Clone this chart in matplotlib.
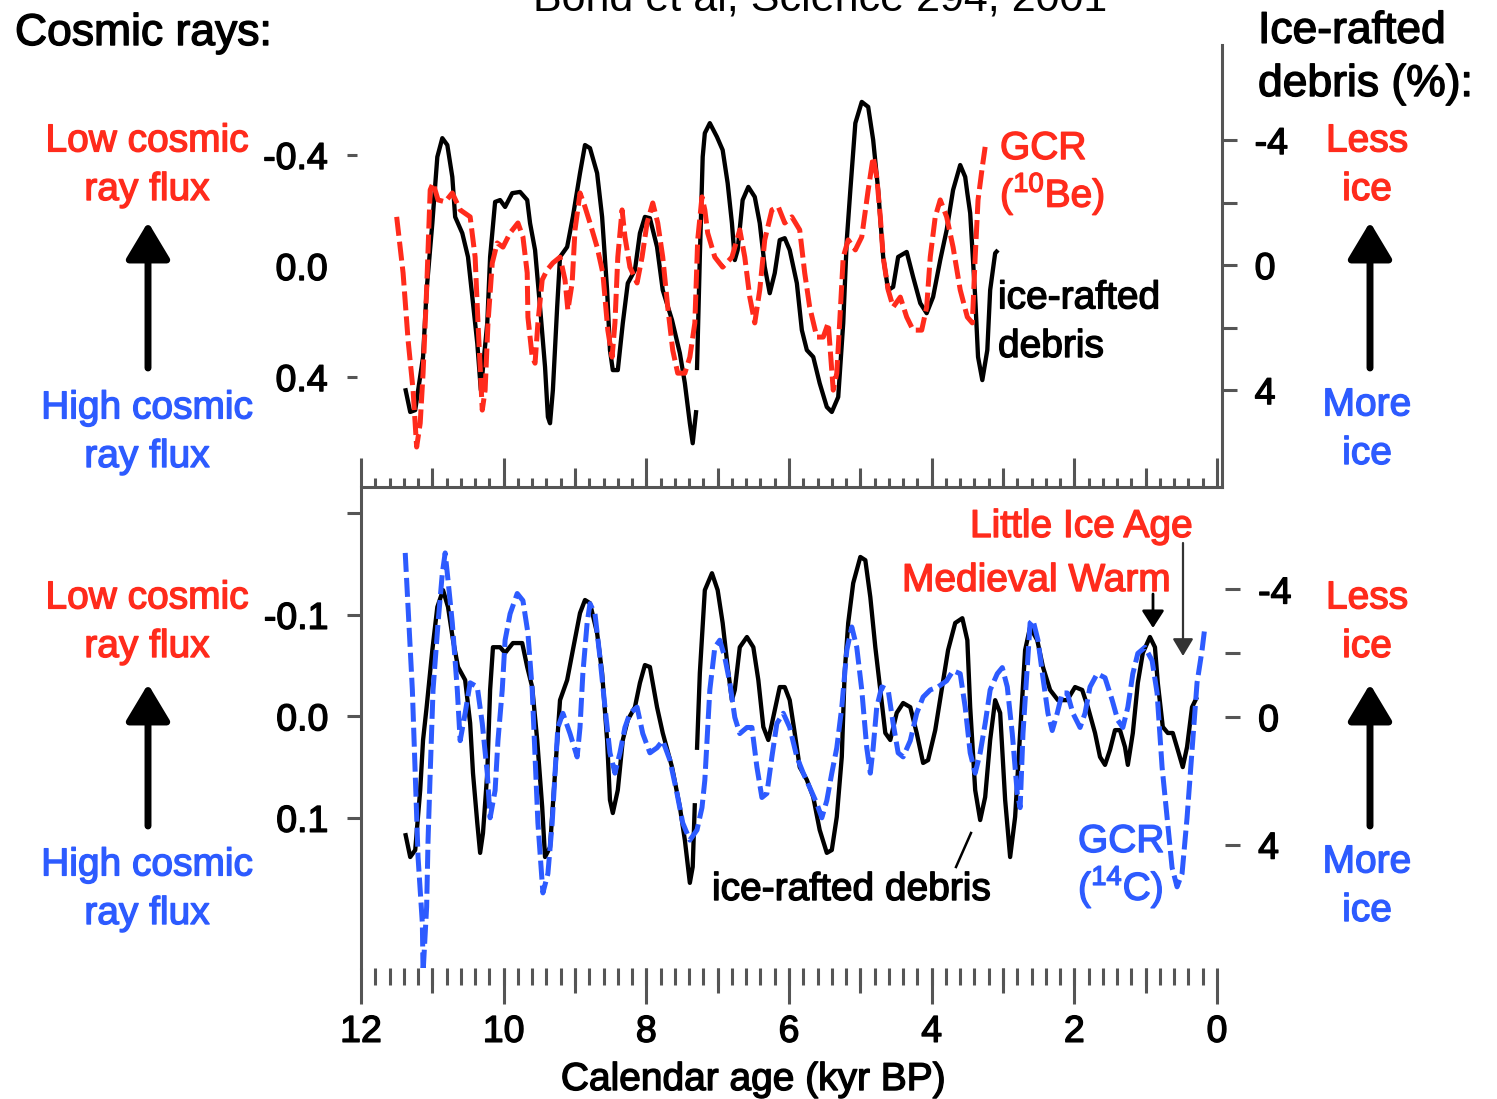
import numpy as np
import matplotlib.pyplot as plt
import matplotlib.patheffects as pe
from matplotlib.patches import FancyArrowPatch
from matplotlib.lines import Line2D
from matplotlib.ticker import FixedLocator, NullFormatter

plt.rcParams['font.family'] = ['Liberation Sans', 'DejaVu Sans']
plt.rcParams['mathtext.fontset'] = 'custom'
plt.rcParams['mathtext.rm'] = 'Liberation Sans'
plt.rcParams['axes.unicode_minus'] = False

W, H = 1497, 1099
RED = '#ff2b1c'
BLUE = '#2d5bff'
GREY = '#555555'

# ---- top panel: ice-rafted debris (%) vs GCR from 10Be ----
ird_top_age_1 = [11.38, 11.31, 11.24, 11.13, 11.08, 11.00, 10.93, 10.86, 10.79, 10.72,
                 10.68, 10.58, 10.50, 10.43, 10.37, 10.32, 10.23, 10.19, 10.12, 10.05,
                 9.98, 9.88, 9.77, 9.67, 9.63, 9.56, 9.49, 9.42, 9.38, 9.35,
                 9.31, 9.25, 9.21, 9.11, 9.03, 8.93, 8.86, 8.79, 8.69, 8.62,
                 8.55, 8.51, 8.47, 8.40, 8.33, 8.26, 8.16, 8.09, 8.02, 7.95,
                 7.85, 7.77, 7.64, 7.53, 7.46, 7.39, 7.35, 7.30]
ird_top_1 = [3.94, 4.70, 4.64, 2.94, 0.80, -1.34, -3.46, -4.06, -3.84, -2.82,
             -1.54, -1.02, -0.26, 1.22, 2.50, 4.00, 1.86, -0.26, -2.02, -2.08,
             -1.86, -2.30, -2.34, -2.08, -1.34, -0.48, 1.34, 3.26, 4.86, 5.06,
             4.00, 1.34, -0.26, -0.58, -1.54, -2.94, -3.84, -3.74, -2.94, -1.54,
             0.80, 2.72, 3.36, 3.36, 1.86, 0.58, 0.16, -1.02, -1.54, -1.50,
             -0.58, 0.80, 1.76, 2.82, 3.78, 5.06, 5.70, 4.64]
ird_top_age_2 = [7.29, 7.25, 7.21, 7.18, 7.11, 7.01, 6.93, 6.86, 6.80, 6.76,
                 6.72, 6.65, 6.57, 6.48, 6.41, 6.34, 6.27, 6.20, 6.13, 6.06,
                 5.99, 5.89, 5.82, 5.75, 5.66, 5.57, 5.47, 5.40, 5.31, 5.24,
                 5.19, 5.14, 5.07, 4.98, 4.89, 4.82, 4.75, 4.68, 4.61, 4.54,
                 4.47, 4.35, 4.26, 4.16, 4.07, 3.98, 3.88, 3.79, 3.70, 3.60,
                 3.53, 3.50, 3.46, 3.39, 3.35, 3.29, 3.22, 3.18, 3.11, 3.07]
ird_top_2 = [3.36, -0.26, -3.46, -4.22, -4.54, -4.10, -3.68, -2.62, -1.34, -0.16,
             -0.48, -2.08, -2.50, -2.18, -1.34, 0.06, 0.90, 0.26, -0.80, -0.86,
             -0.48, 0.58, 2.08, 2.72, 2.94, 3.78, 4.54, 4.70, 4.22, 1.86,
             -0.80, -2.40, -4.54, -5.22, -5.06, -4.00, -2.40, -0.26, 0.80, 0.70,
             -0.26, -0.42, 0.38, 1.22, 1.54, 1.02, -0.16, -1.12, -2.40, -3.20,
             -2.82, -2.30, -1.66, 1.02, 2.94, 3.68, 2.72, 0.80, -0.38, -0.48]

be10_age = [11.50, 11.41, 11.34, 11.27, 11.22, 11.17, 11.13, 11.08, 11.03, 10.99,
            10.92, 10.82, 10.72, 10.61, 10.47, 10.40, 10.36, 10.30, 10.26, 10.22,
            10.16, 10.09, 10.01, 9.91, 9.80, 9.73, 9.67, 9.66, 9.60, 9.56,
            9.52, 9.46, 9.39, 9.31, 9.21, 9.14, 9.10, 9.04, 9.00, 8.93,
            8.86, 8.79, 8.69, 8.61, 8.54, 8.48, 8.44, 8.40, 8.34, 8.30,
            8.23, 8.13, 8.06, 7.99, 7.91, 7.84, 7.77, 7.70, 7.63, 7.56,
            7.46, 7.39, 7.32, 7.28, 7.22, 7.18, 7.14, 7.04, 6.93, 6.80,
            6.69, 6.62, 6.55, 6.48, 6.41, 6.34, 6.24, 6.15, 6.06, 5.96,
            5.85, 5.78, 5.71, 5.61, 5.52, 5.45, 5.38, 5.33, 5.29, 5.24,
            5.17, 5.07, 4.98, 4.89, 4.82, 4.77, 4.72, 4.68, 4.61, 4.54,
            4.44, 4.35, 4.26, 4.14, 4.07, 4.02, 3.95, 3.88, 3.79, 3.70,
            3.60, 3.50, 3.43, 3.39, 3.35, 3.29, 3.25]
be10 = [-0.177, 0.025, 0.267, 0.447, 0.652, 0.566, 0.386, 0.086, -0.274, -0.299,
        -0.238, -0.231, -0.263, -0.202, -0.177, -0.032, 0.205, 0.519, 0.447, 0.205,
        -0.011, -0.083, -0.068, -0.119, -0.155, -0.105, 0.025, 0.184, 0.328, 0.350,
        0.205, 0.050, 0.014, -0.011, -0.032, 0.050, 0.159, 0.061, -0.130, -0.263,
        -0.213, -0.155, -0.068, 0.025, 0.231, 0.328, 0.205, -0.032, -0.202, -0.105,
        0.004, 0.061, -0.032, -0.155, -0.227, -0.155, -0.032, 0.148, 0.303, 0.386,
        0.386, 0.328, 0.205, -0.094, -0.249, -0.202, -0.119, -0.032, 0.004, -0.032,
        -0.130, -0.032, 0.112, 0.205, 0.086, -0.094, -0.202, -0.213, -0.155, -0.177,
        -0.130, 0.025, 0.148, 0.256, 0.256, 0.205, 0.447, 0.386, 0.205, -0.032,
        -0.094, -0.058, -0.105, -0.274, -0.393, -0.321, -0.177, -0.032, 0.086, 0.148,
        0.112, 0.184, 0.231, 0.231, 0.148, -0.032, -0.177, -0.238, -0.177, -0.068,
        0.086, 0.184, 0.205, -0.032, -0.238, -0.357, -0.429]

# ---- bottom panel: ice-rafted debris (%) vs GCR from 14C ----
ird_bot_age_1 = [11.38, 11.31, 11.24, 11.17, 11.13, 11.08, 11.00, 10.93, 10.85, 10.78,
                 10.71, 10.64, 10.54, 10.47, 10.43, 10.37, 10.33, 10.29, 10.23, 10.19,
                 10.15, 10.05, 9.98, 9.87, 9.74, 9.67, 9.60, 9.53, 9.46, 9.42,
                 9.35, 9.28, 9.21, 9.11, 9.03, 8.93, 8.86, 8.79, 8.69, 8.62,
                 8.55, 8.51, 8.47, 8.40, 8.33, 8.26, 8.16, 8.09, 8.02, 7.95,
                 7.85, 7.77, 7.64, 7.53, 7.46, 7.39, 7.35, 7.32]
ird_bot_1 = [3.64, 4.39, 4.17, 2.29, 0.72, -0.31, -2.10, -3.45, -3.98, -3.45,
             -2.41, -1.57, -1.16, 0.19, 1.76, 3.32, 4.26, 3.64, 1.76, -0.85,
             -2.19, -2.19, -2.01, -2.32, -2.32, -1.57, -0.94, 0.72, 2.82, 4.39,
             4.08, 1.76, -0.53, -1.16, -2.10, -3.26, -3.67, -3.57, -2.63, -1.38,
             0.72, 2.60, 3.01, 2.29, 0.72, 0.09, -0.31, -1.07, -1.63, -1.57,
             -0.31, 0.50, 1.57, 2.82, 3.86, 5.20, 4.70, 2.70]
ird_bot_age_2 = [7.29, 7.25, 7.18, 7.08, 7.00, 6.93, 6.86, 6.80, 6.76, 6.69,
                 6.59, 6.50, 6.43, 6.36, 6.29, 6.22, 6.13, 6.06, 5.99, 5.92,
                 5.85, 5.75, 5.66, 5.57, 5.47, 5.40, 5.33, 5.26, 5.22, 5.17,
                 5.10, 5.00, 4.93, 4.86, 4.79, 4.72, 4.65, 4.58, 4.49, 4.40,
                 4.30, 4.21, 4.12, 4.05, 3.95, 3.86, 3.77, 3.67, 3.57, 3.50,
                 3.46, 3.39, 3.32, 3.25, 3.18, 3.11, 3.04, 2.97, 2.90, 2.83,
                 2.76, 2.69, 2.62, 2.52, 2.44, 2.34, 2.23, 2.10, 1.99, 1.89,
                 1.81, 1.71, 1.64, 1.57, 1.50, 1.43, 1.36, 1.29, 1.25, 1.18,
                 1.11, 1.04, 0.94, 0.87, 0.83, 0.76, 0.69, 0.62, 0.55, 0.48,
                 0.42, 0.35, 0.28]
ird_bot_2 = [1.03, -1.38, -3.98, -4.51, -3.98, -2.95, -1.57, -0.53, -0.85, -2.19,
             -2.51, -2.19, -1.16, 0.31, 0.72, 0.00, -0.94, -0.94, -0.53, 0.50,
             1.57, 1.97, 2.51, 3.54, 4.26, 4.17, 3.13, 1.25, -1.38, -2.95,
             -4.20, -5.02, -4.92, -3.76, -2.19, -0.85, 0.50, 0.72, -0.13, -0.44,
             -0.31, 0.50, 1.44, 1.35, 0.41, -0.85, -2.10, -2.95, -3.10, -2.41,
             -0.31, 2.29, 3.23, 2.51, 0.72, -0.53, -0.13, 2.60, 4.39, 3.13,
             0.50, -2.10, -2.82, -2.41, -1.57, -0.85, -0.53, -0.53, -0.94, -0.85,
             -0.31, 0.50, 1.25, 1.50, 1.03, 0.41, 0.41, 0.94, 1.50, 0.50,
             -1.07, -2.01, -2.51, -2.19, -1.07, 0.31, 0.50, 0.50, 1.03, 1.57,
             0.94, -0.31, -0.63]

c14_age = [11.38, 11.34, 11.28, 11.24, 11.20, 11.14, 11.13, 11.08, 11.06, 11.03,
           10.99, 10.92, 10.86, 10.82, 10.78, 10.72, 10.65, 10.61, 10.54, 10.47,
           10.37, 10.30, 10.23, 10.19, 10.12, 10.08, 10.02, 9.98, 9.91, 9.81,
           9.73, 9.66, 9.60, 9.56, 9.52, 9.45, 9.38, 9.32, 9.28, 9.24,
           9.17, 9.07, 8.97, 8.93, 8.89, 8.83, 8.79, 8.72, 8.65, 8.58,
           8.51, 8.44, 8.37, 8.30, 8.23, 8.13, 8.05, 7.95, 7.85, 7.77,
           7.67, 7.57, 7.49, 7.39, 7.29, 7.22, 7.18, 7.11, 7.04, 6.97,
           6.90, 6.83, 6.76, 6.69, 6.59, 6.52, 6.45, 6.38, 6.31, 6.24,
           6.17, 6.08, 5.99, 5.89, 5.80, 5.71, 5.61, 5.54, 5.47, 5.40,
           5.33, 5.26, 5.19, 5.12, 5.05, 4.98, 4.91, 4.86, 4.82, 4.77,
           4.70, 4.61, 4.54, 4.47, 4.40, 4.30, 4.21, 4.12, 4.02, 3.91,
           3.79, 3.70, 3.60, 3.53, 3.46, 3.39, 3.32, 3.25, 3.18, 3.08,
           3.01, 2.94, 2.87, 2.80, 2.76, 2.72, 2.66, 2.62, 2.58, 2.51,
           2.44, 2.37, 2.31, 2.24, 2.17, 2.10, 2.02, 1.92, 1.85, 1.78,
           1.68, 1.57, 1.47, 1.39, 1.32, 1.25, 1.18, 1.11, 1.01, 0.91,
           0.84, 0.77, 0.70, 0.63, 0.56, 0.49, 0.42, 0.35, 0.28, 0.21,
           0.17]
c14 = [-0.161, -0.107, -0.026, 0.056, 0.139, 0.204, 0.253, 0.188, 0.122, 0.056,
       -0.026, -0.092, -0.141, -0.161, -0.134, -0.092, -0.026, 0.024, -0.003, -0.033,
       -0.029, 0.007, 0.056, 0.100, 0.073, 0.024, -0.026, -0.075, -0.101, -0.121,
       -0.114, -0.082, -0.026, 0.040, 0.105, 0.174, 0.155, 0.105, 0.056, 0.011,
       -0.003, 0.017, 0.040, 0.011, -0.042, -0.092, -0.111, -0.101, -0.058, -0.009,
       0.036, 0.056, 0.036, 0.011, -0.003, -0.009, 0.017, 0.036, 0.031, 0.024,
       0.043, 0.076, 0.105, 0.122, 0.112, 0.090, 0.063, -0.026, -0.068, -0.075,
       -0.058, -0.033, 0.001, 0.017, 0.011, 0.011, 0.050, 0.080, 0.076, 0.040,
       0.007, -0.003, 0.011, 0.040, 0.056, 0.070, 0.086, 0.100, 0.083, 0.056,
       0.031, -0.009, -0.065, -0.088, -0.068, -0.026, 0.031, 0.056, 0.031, -0.009,
       -0.029, -0.026, 0.007, 0.036, 0.040, 0.024, -0.003, -0.019, -0.026, -0.029,
       -0.035, -0.045, -0.042, -0.009, 0.036, 0.056, 0.036, 0.007, -0.026, -0.042,
       -0.048, -0.029, 0.017, 0.076, 0.090, 0.017, -0.048, -0.092, -0.095, -0.075,
       -0.038, -0.003, 0.014, -0.003, -0.023, -0.023, -0.003, 0.011, -0.003, -0.029,
       -0.042, -0.038, -0.016, 0.004, 0.011, -0.009, -0.042, -0.062, -0.068, -0.055,
       -0.023, 0.050, 0.100, 0.149, 0.168, 0.155, 0.100, 0.033, -0.033, -0.065,
       -0.088]

age_ticks = [12, 10, 8, 6, 4, 2, 0]


def fx(px):
    return px / W


def fy(py):
    return 1 - py / H


def heavy(color):
    return [pe.withStroke(linewidth=1.0, foreground=color)]


fig = plt.figure(figsize=(W / 100, H / 100), dpi=100)

ax_t = fig.add_axes([fx(361), fy(487), fx(1222) - fx(361), fy(45) - fy(487)])
ax_tg = ax_t.twinx()
ax_b = fig.add_axes([fx(361), fy(968), fx(1222) - fx(361), fy(490) - fy(968)])
ax_bg = ax_b.twinx()

# curves
black_kw = dict(color='black', lw=3.1, solid_joinstyle='round', solid_capstyle='butt')
ax_t.plot(ird_top_age_1, ird_top_1, **black_kw)
ax_t.plot(ird_top_age_2, ird_top_2, **black_kw)
ax_tg.plot(be10_age, be10, color=RED, lw=3.6, dashes=(3.8, 1.2))
ax_b.plot(ird_bot_age_1, ird_bot_1, **black_kw)
ax_b.plot(ird_bot_age_2, ird_bot_2, **black_kw)
ax_bg.plot(c14_age, c14, color=BLUE, lw=3.6, dashes=(3.8, 1.2))

for a in (ax_t, ax_b):
    a.set_xlim(12, -0.07)
    a.patch.set_visible(False)
ax_t.set_ylim(7.10, -7.04)
ax_tg.set_ylim(0.796, -0.796)
ax_b.set_ylim(7.87, -7.12)
ax_bg.set_ylim(0.248, -0.223)

for a in (ax_t, ax_tg, ax_b, ax_bg):
    for s in a.spines.values():
        s.set_visible(False)
        s.set_color(GREY)
        s.set_linewidth(2.2)

# ---- top panel axes ----
ax_t.yaxis.tick_right()
ax_tg.yaxis.tick_left()
ax_t.spines['right'].set_visible(True)
ax_t.spines['bottom'].set_visible(True)
ax_t.set_yticks([-4, -2, 0, 2, 4], ['-4', '', '0', '', '4'])
ax_t.tick_params(axis='y', direction='out', length=10.5, width=2.2, color=GREY,
                 pad=13, labelsize=27, left=False, right=True,
                 labelleft=False, labelright=True)
ax_t.set_xticks(age_ticks)
ax_t.xaxis.set_minor_locator(FixedLocator([1, 3, 5, 7, 9, 11]))
ax_t.tick_params(axis='x', which='major', direction='in', length=21, width=2.2,
                 color=GREY, labelbottom=False)
ax_t.tick_params(axis='x', which='minor', direction='in', length=14, width=2.2,
                 color=GREY)
sec_t = ax_t.secondary_xaxis('bottom')
sec_t.set_xticks(np.round(np.arange(0.2, 12, 0.2), 1))
sec_t.xaxis.set_major_formatter(NullFormatter())
sec_t.tick_params(direction='in', length=6.5, width=2.2, color=GREY)
sec_t.spines['bottom'].set_visible(False)

ax_tg.spines['left'].set_position(('outward', 3))
ax_tg.set_yticks([-0.4, 0.0, 0.4], ['-0.4', '0.0', '0.4'])
ax_tg.tick_params(axis='y', direction='out', length=7.5, width=2.2, color=GREY,
                  pad=13.5, labelsize=27, left=True, right=False,
                  labelleft=True, labelright=False)
ax_tg.yaxis.get_major_ticks()[1].tick1line.set_visible(False)

# ---- bottom panel axes ----
ax_b.yaxis.tick_right()
ax_bg.yaxis.tick_left()
ax_b.spines['right'].set_position(('outward', 2))
ax_b.set_yticks([-4, -2, 0, 4], ['-4', '', '0', '4'])
ax_b.tick_params(axis='y', direction='out', length=11, width=2.2, color=GREY,
                 pad=13, labelsize=27, left=False, right=True,
                 labelleft=False, labelright=True)
ax_b.set_xticks(age_ticks, [str(t) for t in age_ticks])
ax_b.xaxis.set_minor_locator(FixedLocator([1, 3, 5, 7, 9, 11]))
ax_b.tick_params(axis='x', which='major', direction='out', length=26, width=2.2,
                 color=GREY, labelsize=27, pad=7)
ax_b.tick_params(axis='x', which='minor', direction='out', length=18, width=2.2,
                 color=GREY)
sec_b = ax_b.secondary_xaxis('bottom')
sec_b.set_xticks(np.round(np.arange(0.2, 12, 0.2), 1))
sec_b.xaxis.set_major_formatter(NullFormatter())
sec_b.tick_params(direction='out', length=12, width=2.2, color=GREY)
sec_b.spines['bottom'].set_visible(False)

ax_bg.spines['left'].set_visible(True)
ax_bg.set_yticks([-0.2, -0.1, 0.0, 0.1], ['', '-0.1', '0.0', '0.1'])
ax_bg.tick_params(axis='y', direction='out', length=10, width=2.2, color=GREY,
                  pad=13.5, labelsize=27, left=True, right=False,
                  labelleft=True, labelright=False)

for a in (ax_t, ax_tg, ax_b, ax_bg):
    for lbl in a.get_xticklabels() + a.get_yticklabels():
        lbl.set_path_effects(heavy('black'))


# ---- texts (py is the baseline of the last line) ----
def label(px, py, s, color='black', size=28, ha='left', ls=1.45):
    fig.text(fx(px), fy(py), s, color=color, fontsize=size, ha=ha,
             va='baseline', linespacing=ls, path_effects=heavy(color))


fig.text(fx(820), fy(10), 'Bond et al, Science 294, 2001', fontsize=31,
         ha='center', va='baseline')
label(15, 45, 'Cosmic rays:', size=32)
label(1258, 96, 'Ice-rafted\ndebris (%):', size=32, ls=1.38)

for base in (200, 657):
    label(147, base, 'Low cosmic\nray flux', RED, ha='center')
    label(147, base + 267, 'High cosmic\nray flux', BLUE, ha='center')
    label(1367, base, 'Less\nice', RED, ha='center')
    label(1367, base + 264, 'More\nice', BLUE, ha='center')

label(1000, 207, 'GCR\n($^{10}$Be)', RED, ls=1.12)
label(998, 357, 'ice-rafted\ndebris')
label(970, 537, 'Little Ice Age', RED)
label(902, 591, 'Medieval Warm', RED)
label(712, 900, 'ice-rafted debris')
label(1078, 900, 'GCR\n($^{14}$C)', BLUE, ls=1.12)
label(753, 1090, 'Calendar age (kyr BP)', ha='center')


# ---- arrows ----
def arrow(x, y0, y1, lw=5, ms=30, hl=0.75, hw=0.45, color='black'):
    fig.add_artist(FancyArrowPatch((fx(x), fy(y0)), (fx(x), fy(y1)),
                                   transform=fig.transFigure,
                                   arrowstyle=f'-|>,head_length={hl},head_width={hw}',
                                   mutation_scale=ms, lw=lw, color=color,
                                   shrinkA=0, shrinkB=0))


for x in (148, 1370):
    arrow(x, 368, 222)
    arrow(x, 826, 684)
arrow(1153, 594, 628, lw=2, ms=15, hl=0.7, hw=0.45)
arrow(1183, 543, 656, lw=1.6, ms=15, hl=0.7, hw=0.42, color='#333333')
fig.add_artist(Line2D([fx(956), fx(971)], [fy(867), fy(833)],
                      transform=fig.transFigure, color='black', lw=1.8))

fig.savefig('out.png', dpi=100)
